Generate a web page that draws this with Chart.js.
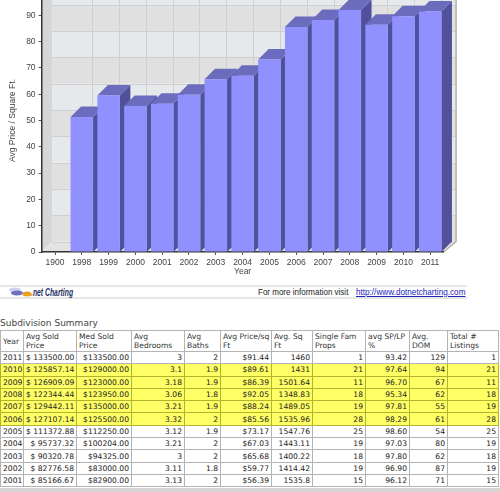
<!DOCTYPE html>
<html>
<head>
<meta charset="utf-8">
<title>Subdivision Summary</title>
<script src="https://cdn.jsdelivr.net/npm/chart.js@4/dist/chart.umd.min.js"></script>
<style>
  html, body { margin: 0; padding: 0; background: #fff; overflow: hidden; }
  body { position: relative; width: 500px; height: 492px; }
  #chartBox { position: absolute; left: 0; top: -20px; width: 500px; height: 298px; }
  .strip { position: absolute; left: 0; top: 285px; width: 467px; height: 10px;
    border-top: 2px solid #e6e6e6; border-bottom: 2px solid #e6e6e6; }
  .strip svg { position: absolute; left: 6px; top: 0; }
  .brand { position: absolute; left: 31px; top: -1px; font: italic bold 11px "Liberation Sans", sans-serif;
    color: #1d2f66; line-height: 12px; white-space: nowrap; transform: scaleX(0.62); transform-origin: left center; }
  .brand b { color: #e08a10; }
  .more { position: absolute; left: 258px; top: -1px; font: 9px "Liberation Sans", sans-serif;
    color: #222; line-height: 12px; white-space: nowrap; transform: scaleX(0.89); transform-origin: left center; }
  .more a { color: #2222bb; text-decoration: underline; margin-left: 6px; font-size: 9.2px; }
  h4 { position: absolute; left: 0; top: 318px; margin: 0; font: normal 9px "DejaVu Sans", sans-serif; color: #444; }
  #summary { position: absolute; left: 0; top: 330px; width: 498px; table-layout: fixed;
    border-collapse: collapse; font: 7.6px "DejaVu Sans", sans-serif; color: #222; }
  #summary th, #summary td { border: 1px solid #b4b4b4; overflow: hidden; white-space: nowrap; }
  #summary th { height: 20px; padding: 0 0 0 2px; text-align: left; font-weight: normal; white-space: normal; line-height: 9px; color: #333; }
  #summary td { height: 11.3px; padding: 0 2px; text-align: right; line-height: 11px; }
  #summary td:first-child { text-align: left; }
  #summary tr.hot td { background: #ffff66; border-color: #b3b32e; }
  .foot { position: absolute; left: 0; top: 488px; width: 500px; height: 4px; background: #d4d4d4; }
</style>
</head>
<body>
<div id="chartBox"><canvas id="priceChart" width="500" height="298"></canvas></div>

<div class="strip">
  <svg width="26" height="10" viewBox="0 0 26 10">
    <ellipse cx="9" cy="3" rx="6" ry="2.5" fill="#d0d0ee"/>
    <ellipse cx="11" cy="6" rx="6" ry="2.5" fill="#6f6fc0"/>
    <ellipse cx="21" cy="7" rx="4.5" ry="2.5" fill="#e8a020"/>
  </svg>
  <span class="brand"><b>.</b>net Charting</span>
  <span class="more">For more information visit <a href="#">http://www.dotnetcharting.com</a></span>
</div>

<h4>Subdivision Summary</h4>
<table id="summary"></table>
<div class="foot"></div>

<script>
// 柱状图数据
const chartYears = ["1900", "1998", "1999", "2000", "2001", "2002", "2003", "2004", "2005", "2006", "2007", "2008", "2009", "2010", "2011"];
const chartPrices = [null, 51.3, 59.5, 55.5, 56.39, 59.77, 65.68, 67.03, 73.17, 85.56, 88.24, 92.05, 86.39, 89.61, 91.44];
const yTicks = [0, 10, 20, 30, 40, 50, 60, 70, 80, 90];

// 表格数据，按列存放
const headers = ["Year", "Avg Sold Price", "Med Sold Price", "Avg Bedrooms", "Avg Baths", "Avg Price/sq Ft", "Avg. Sq Ft", "Single Fam Props", "avg SP/LP %", "Avg. DOM", "Total # Listings"];
const colWidths = [23, 53, 55, 53, 36, 51, 41, 53, 44, 38, 51];
const years = ["2011", "2010", "2009", "2008", "2007", "2006", "2005", "2004", "2003", "2002", "2001"];
const avgSold = ["$ 133500.00", "$ 125857.14", "$ 126909.09", "$ 122344.44", "$ 129442.11", "$ 127107.14", "$ 111372.88", "$ 95737.32", "$ 90320.78", "$ 82776.58", "$ 85166.67"];
const medSold = ["$133500.00", "$129000.00", "$123000.00", "$123950.00", "$135000.00", "$125500.00", "$112250.00", "$100204.00", "$94325.00", "$83000.00", "$82900.00"];
const bedrooms = ["3", "3.1", "3.18", "3.06", "3.21", "3.32", "3.12", "3.21", "3", "3.11", "3.13"];
const baths = ["2", "1.9", "1.9", "1.8", "1.9", "2", "1.9", "2", "2", "1.8", "2"];
const priceSqFt = ["$91.44", "$89.61", "$86.39", "$92.05", "$88.24", "$85.56", "$73.17", "$67.03", "$65.68", "$59.77", "$56.39"];
const sqFt = ["1460", "1431", "1501.64", "1348.83", "1489.05", "1535.96", "1547.76", "1443.11", "1400.22", "1414.42", "1535.8"];
const singleFam = ["1", "21", "11", "18", "19", "28", "25", "19", "18", "19", "15"];
const spLp = ["93.42", "97.64", "96.70", "95.34", "97.81", "98.29", "98.60", "97.03", "97.80", "96.90", "96.12"];
const dom = ["129", "94", "67", "62", "55", "61", "54", "80", "62", "87", "71"];
const listings = ["1", "21", "11", "18", "19", "28", "25", "19", "18", "19", "15"];
const hotYears = ["2010", "2009", "2008", "2007", "2006"];

const DEPTH = 10.5;

/**
 * 生成汇总表格
 */
function buildTable() {
  const columns = [years, avgSold, medSold, bedrooms, baths, priceSqFt, sqFt, singleFam, spLp, dom, listings];
  let html = "<colgroup>" + colWidths.map(function (w) {
    return '<col style="width:' + w + 'px">';
  }).join("") + "</colgroup>";
  html += "<tr>" + headers.map(function (h) { return "<th>" + h + "</th>"; }).join("") + "</tr>";
  years.forEach(function (year, i) {
    const cls = hotYears.includes(year) ? ' class="hot"' : "";
    html += "<tr" + cls + ">" + columns.map(function (c) { return "<td>" + c[i] + "</td>"; }).join("") + "</tr>";
  });
  document.getElementById("summary").innerHTML = html;
}

function fillPoly(ctx, color, pts) {
  ctx.fillStyle = color;
  ctx.beginPath();
  pts.forEach(function (p, i) {
    if (i === 0) ctx.moveTo(p[0], p[1]);
    else ctx.lineTo(p[0], p[1]);
  });
  ctx.closePath();
  ctx.fill();
}

// 三维背景：左墙、地板、后墙和网格
const wallsPlugin = {
  id: "walls",
  beforeDraw(chart) {
    const ctx = chart.ctx;
    const a = chart.chartArea;
    const xs = chart.scales.x;
    const ys = chart.scales.y;
    const y0 = ys.getPixelForValue(0);
    const wallRight = a.right + 12.5;
    ctx.save();

    fillPoly(ctx, "#d5d7d7", [[a.left, y0], [a.left + DEPTH, y0 - DEPTH], [a.left + DEPTH, a.top - DEPTH], [a.left, a.top - DEPTH]]);
    fillPoly(ctx, "#e2e3e3", [[a.left, y0], [a.right, y0], [wallRight, y0 - DEPTH], [a.left + DEPTH, y0 - DEPTH]]);

    // 后墙隔行换色
    for (let v = 0; v < 100; v += 10) {
      const top = ys.getPixelForValue(v + 10) - DEPTH;
      const bottom = ys.getPixelForValue(v) - DEPTH;
      ctx.fillStyle = v % 20 === 0 ? "#e0e0e0" : "#e6e9eb";
      ctx.fillRect(a.left + DEPTH, top, wallRight - a.left - DEPTH, bottom - top);
    }

    ctx.strokeStyle = "#cfcfd2";
    ctx.lineWidth = 1;
    ctx.beginPath();
    for (let v = 0; v <= 100; v += 10) {
      const y = Math.round(ys.getPixelForValue(v) - DEPTH) + 0.5;
      ctx.moveTo(a.left + DEPTH, y);
      ctx.lineTo(wallRight, y);
    }
    chartYears.forEach(function (year, i) {
      if (i === 0) return;
      const x = Math.round(xs.getPixelForValue(i) + DEPTH) + 0.5;
      ctx.moveTo(x, a.top - DEPTH);
      ctx.lineTo(x, y0 - DEPTH);
    });
    ctx.stroke();

    // 后墙右边框
    ctx.strokeStyle = "#b2b2aa";
    ctx.lineWidth = 1.5;
    ctx.beginPath();
    ctx.moveTo(wallRight, 0);
    ctx.lineTo(wallRight, y0 - DEPTH);
    ctx.lineTo(a.right, y0);
    ctx.stroke();
    ctx.restore();
  }
};

// 柱子的顶面和侧面，正面由 Chart.js 绘制
const barDepthPlugin = {
  id: "barDepth",
  beforeDatasetsDraw(chart) {
    const ctx = chart.ctx;
    const y0 = chart.scales.y.getPixelForValue(0);
    ctx.save();
    chart.getDatasetMeta(0).data.forEach(function (bar, i) {
      if (chartPrices[i] === null) return;
      const left = bar.x - bar.width / 2;
      const right = bar.x + bar.width / 2;
      fillPoly(ctx, "#50509b", [[right, y0], [right + DEPTH, y0 - DEPTH], [right + DEPTH, bar.y - DEPTH], [right, bar.y]]);
      fillPoly(ctx, "#6c6cbe", [[left, bar.y], [left + DEPTH, bar.y - DEPTH], [right + DEPTH, bar.y - DEPTH], [right, bar.y]]);
    });
    ctx.restore();
  }
};

/**
 * 初始化柱状图
 */
function initChart() {
  new Chart(document.getElementById("priceChart"), {
    type: "bar",
    data: {
      labels: chartYears,
      datasets: [
        {
          data: chartPrices,
          backgroundColor: "#9090ff",
          borderWidth: 0,
          barPercentage: 1,
          categoryPercentage: 0.84,
        },
      ],
    },
    plugins: [wallsPlugin, barDepthPlugin],
    options: {
      responsive: false,
      animation: false,
      devicePixelRatio: 1,
      layout: { padding: { top: 9, right: 56.4, left: 0, bottom: 0 } },
      plugins: { legend: { display: false }, tooltip: { enabled: false } },
      scales: {
        x: {
          afterFit(scale) { scale.height = 26; },
          grid: { drawOnChartArea: false, offset: false, tickLength: 3, color: "#555" },
          border: { color: "#333", width: 1.5 },
          ticks: { color: "#444", font: { family: "Liberation Sans", size: 8.5 }, padding: 3, maxRotation: 0, autoSkip: false },
          title: { display: true, text: "Year", color: "#444", font: { family: "Liberation Sans", size: 8.5 }, padding: { top: 0, bottom: 1 } },
        },
        y: {
          min: 0,
          max: 100,
          afterFit(scale) { scale.width = 41.6; },
          afterBuildTicks(scale) {
            scale.ticks = yTicks.map(function (v) { return { value: v }; });
          },
          grid: { drawOnChartArea: false, tickLength: 3, color: "#555" },
          border: { color: "#333", width: 1.5 },
          ticks: { color: "#444", font: { family: "Liberation Sans", size: 8.5 }, padding: 3 },
          title: { display: true, text: "Avg Price / Square Ft.", color: "#444", font: { family: "Liberation Sans", size: 8.5 }, padding: { top: 8, bottom: 0 } },
        },
      },
    },
  });
}

document.addEventListener("DOMContentLoaded", function () {
  buildTable();
  initChart();
});
</script>
</body>
</html>
